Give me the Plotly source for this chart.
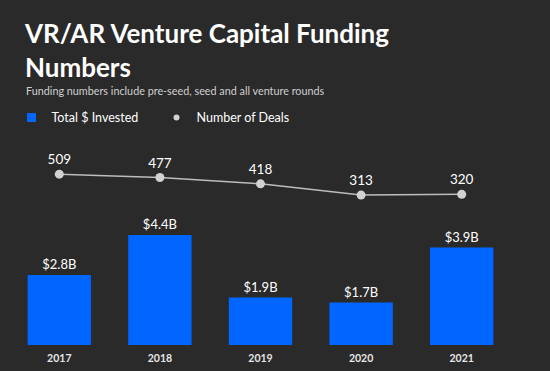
import plotly.graph_objects as go

years = ["2017", "2018", "2019", "2020", "2021"]
invested_b = [2.8, 4.4, 1.9, 1.7, 3.9]
invested_labels = ["$2.8B", "$4.4B", "$1.9B", "$1.7B", "$3.9B"]
deals = [509, 477, 418, 313, 320]

BG = "#2a2a2a"
BLUE = "#0066ff"
GREY = "#d2d2d2"
FONT = "Lato"

fig = go.Figure()
fig.add_trace(go.Bar(
    x=years, y=invested_b, name="Total $ Invested", showlegend=False,
    marker=dict(color=BLUE, line=dict(width=0)),
    text=invested_labels, textposition="outside", cliponaxis=False,
    textfont=dict(color="#ffffff", size=13, family=FONT),
    width=0.63, yaxis="y",
))
fig.add_trace(go.Scatter(
    x=years, y=deals, name="Number of Deals", mode="lines+markers+text", showlegend=False,
    line=dict(color="#bdbdbd", width=1.5),
    marker=dict(color=GREY, size=9),
    text=[str(v) for v in deals], textposition="top center",
    textfont=dict(color="#ffffff", size=13.5, family=FONT),
    cliponaxis=False, yaxis="y2",
))
# legend entries
fig.add_trace(go.Scatter(x=[None], y=[None], mode="markers", name="Total $ Invested",
                         marker=dict(symbol="square", color=BLUE, size=9)))
fig.add_trace(go.Scatter(x=[None], y=[None], mode="markers", name="Number of Deals",
                         marker=dict(symbol="circle", color=GREY, size=6)))

fig.update_layout(
    width=550, height=371,
    paper_bgcolor=BG, plot_bgcolor=BG,
    margin=dict(l=9, r=38, t=140, b=26, autoexpand=False),
    font=dict(family=FONT, color="#ffffff"),
    showlegend=True,
    legend=dict(orientation="h", x=0.005, y=0.682, yref="container", xanchor="left", yanchor="middle",
                font=dict(size=12.5, color="#ffffff", family=FONT),
                bgcolor="rgba(0,0,0,0)", itemwidth=30, traceorder="normal",
                entrywidth=100, entrywidthmode="pixels"),
    xaxis=dict(showgrid=False, zeroline=False, showline=False, ticks="",
               ticklabelstandoff=5,
               tickfont=dict(size=10.5, color="#e6e6e6", family=FONT, weight="bold")),
    yaxis=dict(range=[0, 8.2], visible=False, showgrid=False),
    yaxis2=dict(range=[-1088, 828], visible=False, showgrid=False,
                overlaying="y", side="right"),
)
fig.add_annotation(text="<b>VR/AR Venture Capital Funding<br>Numbers</b>", xref="paper", yref="paper",
                   x=0, y=1.0, xanchor="left", yanchor="top", xshift=13, yshift=125,
                   showarrow=False, align="left",
                   font=dict(size=26, color="#ffffff", family=FONT))
fig.add_annotation(text="Funding numbers include pre-seed, seed and all venture rounds",
                   xref="paper", yref="paper", x=0, y=1.0, xanchor="left", yanchor="middle",
                   xshift=15, yshift=50, showarrow=False,
                   font=dict(size=10.8, color="#d0d0d0", family=FONT))
fig.write_html("out.html", config={"displayModeBar": False},
               post_script="document.body.style.margin='0';")
